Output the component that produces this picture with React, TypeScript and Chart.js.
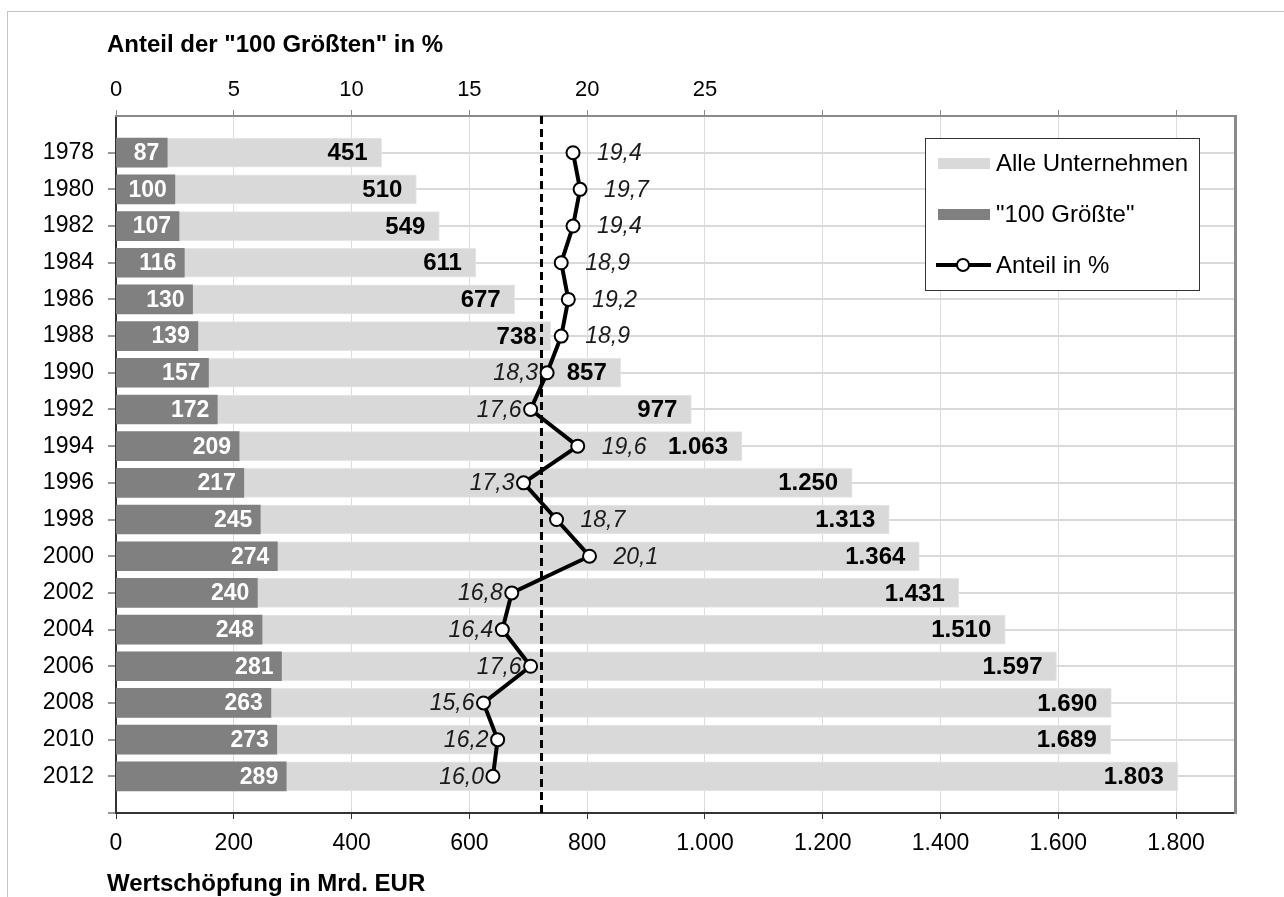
import React, { useEffect, useRef } from 'react';
import { Chart, registerables } from 'chart.js';

Chart.register(...registerables);

// Wertschöpfung der Unternehmen und Anteil der "100 Größten"
const years = ['1978', '1980', '1982', '1984', '1986', '1988', '1990', '1992', '1994', '1996', '1998', '2000', '2002', '2004', '2006', '2008', '2010', '2012'];
const allCompanies = [451, 510, 549, 611, 677, 738, 857, 977, 1063, 1250, 1313, 1364, 1431, 1510, 1597, 1690, 1689, 1803];
const largest100 = [87, 100, 107, 116, 130, 139, 157, 172, 209, 217, 245, 274, 240, 248, 281, 263, 273, 289];
const sharePercent = [19.4, 19.7, 19.4, 18.9, 19.2, 18.9, 18.3, 17.6, 19.6, 17.3, 18.7, 20.1, 16.8, 16.4, 17.6, 15.6, 16.2, 16.0];
const shareLabelSide = ['r', 'r', 'r', 'r', 'r', 'r', 'l', 'l', 'r', 'l', 'r', 'r', 'l', 'l', 'l', 'l', 'l', 'l'];
const averageShare = 18.05;
const valueTicks = [0, 200, 400, 600, 800, 1000, 1200, 1400, 1600, 1800];
const valueAxisMax = 1900;
const shareTicks = [0, 5, 10, 15, 20, 25, 30, 35, 40, 45];
const shareTickLabelMax = 25;
const shareAxisMax = 47.5;

const FONT = "'Liberation Sans', Arial, sans-serif";

const fmtThousands = (v: number) =>
  v >= 1000 ? `${Math.floor(v / 1000)}.${String(v % 1000).padStart(3, '0')}` : String(v);
const fmtPercent = (v: number) => v.toFixed(1).replace('.', ',');

// dataset indices
const LINE = 0;
const DARK = 1;
const LIGHT = 2;

const decorations = {
  id: 'decorations',
  beforeDraw(chart: any) {
    const { ctx } = chart;
    ctx.save();
    ctx.fillStyle = '#ffffff';
    ctx.fillRect(0, 0, chart.width, chart.height);
    ctx.strokeStyle = '#c4c4c4';
    ctx.lineWidth = 1;
    ctx.strokeRect(7.5, 11.5, chart.width + 10, chart.height + 10);
    ctx.restore();
  },
  afterDatasetDraw(chart: any, args: any) {
    if (args.index !== DARK && args.index !== LIGHT) return;
    const { ctx } = chart;
    const light = args.index === LIGHT;
    const values = light ? allCompanies : largest100;
    ctx.save();
    ctx.font = `bold ${light ? 24 : 23}px ${FONT}`;
    ctx.textAlign = 'right';
    ctx.textBaseline = 'middle';
    ctx.fillStyle = light ? '#000000' : '#ffffff';
    args.meta.data.forEach((bar: any, i: number) => {
      ctx.fillText(fmtThousands(values[i]), bar.x - (light ? 14 : 8), bar.y + 1);
    });
    ctx.restore();
  },
  beforeDatasetDraw(chart: any, args: any) {
    if (args.index !== LINE) return;
    const { ctx, chartArea } = chart;
    const x2 = chart.scales.x2;
    ctx.save();
    // Durchschnittslinie
    const ax = Math.round(x2.getPixelForValue(averageShare)) + 0.5;
    ctx.strokeStyle = '#000000';
    ctx.lineWidth = 3;
    ctx.setLineDash([8, 5]);
    ctx.beginPath();
    ctx.moveTo(ax, chartArea.top);
    ctx.lineTo(ax, chartArea.bottom);
    ctx.stroke();
    ctx.setLineDash([]);
    // Prozentbeschriftungen
    ctx.font = `italic 23px ${FONT}`;
    ctx.textBaseline = 'middle';
    ctx.fillStyle = '#1a1a1a';
    args.meta.data.forEach((pt: any, i: number) => {
      const txt = fmtPercent(sharePercent[i]);
      if (shareLabelSide[i] === 'r') {
        ctx.textAlign = 'left';
        ctx.fillText(txt, pt.x + 24, pt.y + 1);
      } else {
        ctx.textAlign = 'right';
        ctx.fillText(txt, pt.x - 9, pt.y + 1);
      }
    });
    ctx.restore();
  },
  afterDraw(chart: any) {
    const { ctx, chartArea } = chart;
    ctx.save();
    // rechter Rahmen
    ctx.strokeStyle = '#8a8a8a';
    ctx.lineWidth = 3;
    ctx.beginPath();
    ctx.moveTo(chartArea.right + 0.5, chartArea.top - 1);
    ctx.lineTo(chartArea.right + 0.5, chartArea.bottom + 1);
    ctx.stroke();

    // Achsentitel
    ctx.fillStyle = '#000000';
    ctx.textAlign = 'left';
    ctx.textBaseline = 'middle';
    ctx.font = `bold 24px ${FONT}`;
    ctx.fillText('Anteil der "100 Größten" in %', 107, 45);
    ctx.fillText('Wertschöpfung in Mrd. EUR', 107, 884);

    // Legende
    const lx = 925, ly = 138, lw = 274, lh = 152;
    ctx.fillStyle = '#ffffff';
    ctx.fillRect(lx, ly, lw, lh);
    ctx.strokeStyle = '#333333';
    ctx.lineWidth = 1;
    ctx.strokeRect(lx + 0.5, ly + 0.5, lw, lh);
    const rows = [
      { label: 'Alle Unternehmen', kind: 'bar', color: '#d9d9d9', y: 163 },
      { label: '"100 Größte"', kind: 'bar', color: '#808080', y: 214 },
      { label: 'Anteil in %', kind: 'line', color: '#000000', y: 265 },
    ];
    ctx.font = `24px ${FONT}`;
    rows.forEach((r) => {
      if (r.kind === 'bar') {
        ctx.fillStyle = r.color;
        ctx.fillRect(938, r.y - 5, 52, 11);
      } else {
        ctx.strokeStyle = '#000000';
        ctx.lineWidth = 4;
        ctx.beginPath();
        ctx.moveTo(936, r.y);
        ctx.lineTo(991, r.y);
        ctx.stroke();
        ctx.beginPath();
        ctx.arc(963, r.y, 6, 0, Math.PI * 2);
        ctx.fillStyle = '#ffffff';
        ctx.fill();
        ctx.lineWidth = 2;
        ctx.stroke();
      }
      ctx.fillStyle = '#000000';
      ctx.textAlign = 'left';
      ctx.fillText(r.label, 996, r.y + 1);
    });
    ctx.restore();
  },
};

export default function App() {
  const canvasRef = useRef<HTMLCanvasElement | null>(null);

  useEffect(() => {
    const canvas = canvasRef.current;
    if (!canvas) return;
    const chart = new Chart(canvas, {
      type: 'bar',
      data: {
        datasets: [
          {
            type: 'line',
            label: 'Anteil in %',
            data: sharePercent.map((v, i) => ({ x: v, y: i })),
            xAxisID: 'x2',
            yAxisID: 'y',
            borderColor: '#000000',
            borderWidth: 4,
            pointRadius: 6.5,
            pointBackgroundColor: '#ffffff',
            pointBorderColor: '#000000',
            pointBorderWidth: 2,
            tension: 0,
            order: 1,
          } as any,
          {
            type: 'bar',
            label: '"100 Größte"',
            data: largest100.map((v, i) => ({ x: v, y: i })),
            xAxisID: 'x',
            yAxisID: 'y',
            backgroundColor: '#808080',
            barThickness: 29,
            grouped: false,
            order: 2,
          } as any,
          {
            type: 'bar',
            label: 'Alle Unternehmen',
            data: allCompanies.map((v, i) => ({ x: v, y: i })),
            xAxisID: 'x',
            yAxisID: 'y',
            backgroundColor: '#d9d9d9',
            borderColor: '#e6e6e6',
            borderWidth: 1,
            borderSkipped: 'start',
            barThickness: 29,
            grouped: false,
            order: 3,
          } as any,
        ],
      },
      options: {
        indexAxis: 'y',
        responsive: false,
        animation: false,
        layout: { padding: { left: 0, top: 0, right: 49, bottom: 0 } },
        plugins: { legend: { display: false }, tooltip: { enabled: false } },
        scales: {
          y: {
            type: 'linear',
            position: 'left',
            reverse: true,
            offset: false,
            min: -1,
            max: years.length,
            afterBuildTicks: (scale: any) => {
              scale.ticks = [];
              for (let i = -1; i <= years.length; i++) scale.ticks.push({ value: i });
            },
            afterFit: (scale: any) => {
              scale.width = 116;
            },
            ticks: {
              autoSkip: false,
              padding: 14,
              color: '#000000',
              font: { family: FONT, size: 23 },
              callback: (v: any) => years[v] ?? '',
            },
            grid: {
              offset: false,
              color: (c: any) => (c.tick && c.tick.value >= 0 && c.tick.value < years.length ? '#d9d9d9' : 'rgba(0,0,0,0)'),
              lineWidth: 2,
              tickLength: 8,
              tickColor: (c: any) => (c.tick && c.tick.value >= 0 ? '#333333' : 'rgba(0,0,0,0)'),
              tickWidth: 1,
            },
            border: { color: '#333333', width: 2 },
          },
          x: {
            type: 'linear',
            position: 'bottom',
            offset: false,
            min: 0,
            max: valueAxisMax,
            afterBuildTicks: (scale: any) => {
              scale.ticks = valueTicks.map((v) => ({ value: v }));
            },
            afterFit: (scale: any) => {
              scale.height = 84;
            },
            ticks: {
              padding: 11,
              color: '#000000',
              font: { family: FONT, size: 23 },
              callback: (v: any) => fmtThousands(Number(v)),
            },
            grid: {
              color: '#dcdcdc',
              lineWidth: 1,
              tickLength: 6,
              tickColor: '#333333',
            },
            border: { color: '#333333', width: 2 },
          },
          x2: {
            type: 'linear',
            position: 'top',
            offset: false,
            min: 0,
            max: shareAxisMax,
            afterBuildTicks: (scale: any) => {
              scale.ticks = shareTicks.map((v) => ({ value: v }));
            },
            afterFit: (scale: any) => {
              scale.height = 116;
            },
            ticks: {
              padding: 7,
              color: '#000000',
              font: { family: FONT, size: 22 },
              callback: (v: any) => (Number(v) <= shareTickLabelMax ? String(v) : ''),
            },
            grid: {
              drawOnChartArea: false,
              tickLength: 6,
              tickColor: '#8a8a8a',
            },
            border: { color: '#8a8a8a', width: 2 },
          },
        },
      },
      plugins: [decorations],
    });
    return () => chart.destroy();
  }, []);

  return (
    <div style={{ position: 'absolute', left: 0, top: 0, width: 1284, height: 897 }}>
      <canvas ref={canvasRef} width={1284} height={897} />
    </div>
  );
}
